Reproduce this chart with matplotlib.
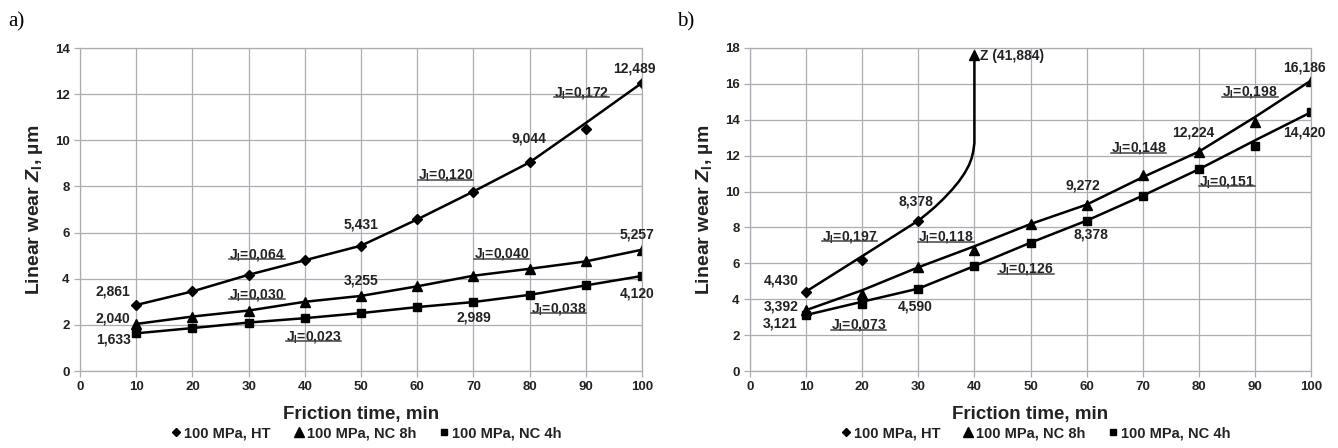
import matplotlib
matplotlib.use("Agg")
import matplotlib.pyplot as plt
from matplotlib.lines import Line2D

plt.rcParams['font.family'] = ['Liberation Sans', 'DejaVu Sans']
plt.rcParams['font.weight'] = 'bold'
plt.rcParams['mathtext.fontset'] = 'custom'
plt.rcParams['mathtext.rm'] = 'Liberation Sans:bold'
plt.rcParams['mathtext.it'] = 'Liberation Sans:bold:italic'
plt.rcParams['mathtext.bf'] = 'Liberation Sans:bold'
plt.rcParams['mathtext.default'] = 'rm'
plt.rcParams['lines.solid_joinstyle'] = 'round'

# friction time, min
t = [10, 20, 30, 40, 50, 60, 70, 80, 90, 100]

# a) measured points and drawn lines
ht_a = [2.861, 3.45, 4.17, 4.80, 5.431, 6.57, 7.78, 9.044, 10.48, 12.489]
ht_a_line = [2.861, 3.45, 4.17, 4.80, 5.431, 6.57, 7.78, 9.044, 10.75, 12.489]
nc8_a = [2.040, 2.36, 2.62, 3.00, 3.255, 3.67, 4.13, 4.43, 4.75, 5.257]
nc4_a = [1.633, 1.86, 2.10, 2.29, 2.51, 2.77, 2.989, 3.30, 3.71, 4.120]

# b) measured points and drawn lines
t_ht_b = [10, 20, 30]
ht_b = [4.430, 6.19, 8.378]
ht_b_curve_x = [10, 20, 30, 31.5, 33, 34.5, 36, 37.2, 38.2, 39, 39.5, 39.8, 40, 40]
ht_b_curve_y = [4.430, 6.40, 8.378, 8.75, 9.15, 9.6, 10.1, 10.55, 11.0, 11.45,
                11.85, 12.25, 12.7, 17.6]
nc8_b = [3.392, 4.29, 5.78, 6.74, 8.19, 9.272, 10.93, 12.224, 13.9, 16.186]
nc8_b_line = [3.392, 4.50, 5.78, 6.95, 8.19, 9.272, 10.8, 12.224, 14.15, 16.186]
nc4_b = [3.121, 3.73, 4.590, 5.85, 7.15, 8.378, 9.77, 11.24, 12.54, 14.420]
nc4_b_line = [3.121, 3.86, 4.590, 5.85, 7.15, 8.378, 9.77, 11.24, 12.85, 14.420]

# value labels: (text, x, y)
vals_a = [("2,861", 5.9, 3.45), ("2,040", 5.9, 2.26), ("1,633", 5.9, 1.35),
          ("5,431", 50, 6.35), ("9,044", 79.9, 10.07), ("12,489", 98.6, 13.13),
          ("3,255", 50, 3.91), ("5,257", 99.1, 5.91), ("2,989", 70, 2.33),
          ("4,120", 99.1, 3.35)]
jl_a = [("0,064", 31.5, 5.04), ("0,030", 31.5, 3.30), ("0,023", 41.5, 1.49),
        ("0,120", 65, 8.49), ("0,172", 89.3, 12.07), ("0,040", 75, 5.07),
        ("0,038", 85.1, 2.70)]
vals_b = [("4,430", 5.6, 5.03), ("3,392", 5.5, 3.62), ("3,121", 5.3, 2.62),
          ("4,590", 29.4, 3.62), ("8,378", 29.6, 9.44), ("8,378", 60.7, 7.58),
          ("9,272", 59.4, 10.31), ("12,224", 79, 13.28), ("16,186", 98.9, 16.9),
          ("14,420", 98.9, 13.28)]
jl_b = [("0,197", 17.8, 7.49), ("0,118", 34.9, 7.45), ("0,073", 19.3, 2.56),
        ("0,126", 49.2, 5.67), ("0,148", 69.3, 12.41), ("0,151", 85, 10.55),
        ("0,198", 89.1, 15.54)]

W, H = 1338, 448
fig = plt.figure(figsize=(W / 100, H / 100), dpi=100)
ax_a = fig.add_axes([80 / W, 1 - 371 / H, 562 / W, 323 / H])
ax_b = fig.add_axes([750 / W, 1 - 371 / H, 561 / W, 323 / H])

grid_c = '#a9adb5'
txt_c = '#222222'
jtexts = []


def style(ax, ymax):
    ax.set_xlim(0, 100)
    ax.set_ylim(0, ymax)
    ax.set_xticks(range(0, 101, 10))
    ax.set_yticks(range(0, ymax + 1, 2))
    ax.grid(True, color=grid_c, lw=0.9)
    ax.set_axisbelow(True)
    for s in ax.spines.values():
        s.set_color(grid_c)
        s.set_linewidth(0.9)
    ax.tick_params(colors=grid_c, labelcolor=txt_c, labelsize=9.5, length=4, width=0.9)
    for lab in ax.get_xticklabels() + ax.get_yticklabels():
        lab.set_fontweight('bold')
    ax.set_xlabel("Friction time, min", fontsize=13.5, fontweight='bold',
                  color=txt_c, labelpad=9)
    ax.set_ylabel(r"Linear wear $\mathit{Z}_{I}$, µm", fontsize=14,
                  fontweight='bold', color=txt_c, labelpad=7)


def labels(ax, vals, jl):
    for s, x, y in vals:
        ax.text(x, y, s, ha='center', va='center', fontsize=10,
                fontweight='bold', color=txt_c)
    for s, x, y in jl:
        jt = ax.text(x, y, r"J$_{I}$=" + s, ha='center', va='center',
                     fontsize=10, color=txt_c)
        jtexts.append(jt)


lw = 1.8
# a)
ax_a.plot(t, ht_a_line, color='black', lw=lw)
ax_a.plot(t, ht_a, 'D', color='black', ms=5)
ax_a.plot(t, nc8_a, color='black', lw=lw, marker='^', ms=7)
ax_a.plot(t, nc4_a, color='black', lw=lw, marker='s', ms=6)
style(ax_a, 14)
labels(ax_a, vals_a, jl_a)

# b)
ax_b.plot(ht_b_curve_x, ht_b_curve_y, color='black', lw=lw)
ax_b.plot(t_ht_b, ht_b, 'D', color='black', ms=5)
ax_b.plot(ht_b_curve_x[-1], ht_b_curve_y[-1], '^', color='black', ms=7.5)
ax_b.plot(t, nc8_b_line, color='black', lw=lw)
ax_b.plot(t, nc8_b, '^', color='black', ms=7)
ax_b.plot(t, nc4_b_line, color='black', lw=lw)
ax_b.plot(t, nc4_b, 's', color='black', ms=6)
ax_b.text(41, 17.55, "Z (41,884)", ha='left', va='center', fontsize=10,
          fontweight='bold', color=txt_c)
style(ax_b, 18)
labels(ax_b, vals_b, jl_b)

# legends under each panel
handles = [Line2D([], [], ls='none', marker='D', color='black', ms=4.5),
           Line2D([], [], ls='none', marker='^', color='black', ms=6.5),
           Line2D([], [], ls='none', marker='s', color='black', ms=5)]
names = ["100 MPa, HT", "100 MPa, NC 8h", "100 MPa, NC 4h"]
for ax in (ax_a, ax_b):
    leg = ax.legend(handles, names, loc='center', bbox_to_anchor=(0.51, -0.192),
                    ncol=3, frameon=False, fontsize=10.5, handlelength=0.6,
                    handletextpad=0.25, columnspacing=1.6, borderaxespad=0)
    for tx in leg.get_texts():
        tx.set_color(txt_c)
        tx.set_fontweight('bold')

fig.text(8 / W, 1 - 22 / H, "a)", fontsize=15, family='Liberation Serif',
         fontweight='normal', va='center')
fig.text(677 / W, 1 - 22 / H, "b)", fontsize=15, family='Liberation Serif',
         fontweight='normal', va='center')

# underline the J labels
fig.canvas.draw()
r = fig.canvas.get_renderer()
for jt in jtexts:
    bb = jt.get_window_extent(r)
    y0 = (bb.y0 + 3.5) / H
    fig.add_artist(Line2D([bb.x0 / W, bb.x1 / W], [y0, y0],
                          color='#444444', lw=1.1))

fig.savefig("out.png", dpi=100)
